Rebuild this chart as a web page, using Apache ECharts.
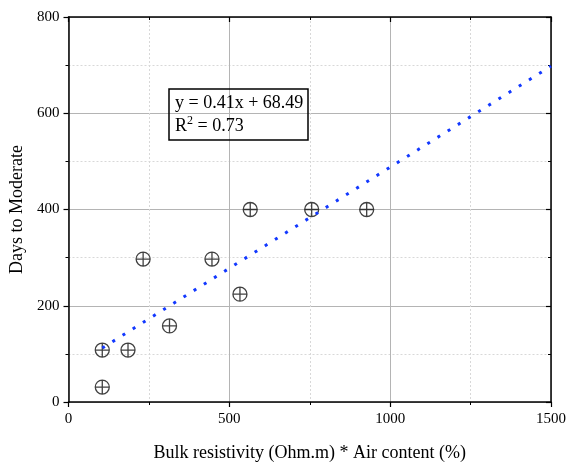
<!DOCTYPE html>
<html>
<head>
<meta charset="utf-8">
<script src="https://cdn.jsdelivr.net/npm/echarts@6/dist/echarts.min.js"></script>
<style>
html,body{margin:0;padding:0;background:#fff;}
#main{width:569px;height:467px;}
</style>
</head>
<body>
<div id="main"></div>
<script>
// measured points (x = resistivity * air content, y = days to moderate)
var xVals = [105, 105, 185, 232, 314, 446, 533, 565, 756, 927];
var yVals = [108, 31, 108, 297, 158, 297, 224, 400, 400, 400];
// linear fit ends
var fitX = [105, 1500];
var fitY = [112, 698];

var pts = [];
for (var i = 0; i < xVals.length; i++) pts.push([xVals[i], yVals[i]]);
var fit = [];
for (var j = 0; j < fitX.length; j++) fit.push([fitX[j], fitY[j]]);

var font = 'Liberation Serif';
var myChart = echarts.init(document.getElementById('main'));

// top / right frame axes: ticks pointing inward, no labels
function frame(pos, max, step) {
	return {
		type: 'value', position: pos, min: 0, max: max, interval: step,
		axisLine: {show: true, onZero: false, lineStyle: {color: '#000', width: 1.5}},
		axisTick: {show: true, inside: true, length: 5, lineStyle: {color: '#000', width: 1.2}},
		minorTick: {show: true, splitNumber: 2, length: 3, lineStyle: {color: '#000'}},
		axisLabel: {show: false},
		splitLine: {show: false}
	};
}

option = {
	animation: false,
	grid: {left: 68.5, right: 18, top: 17, bottom: 63},
	title: {
		text: 'y = 0.41x + 68.49\nR{sup|2} = 0.73',
		left: 169, top: 89,
		borderColor: '#000', borderWidth: 1.5,
		padding: [3, 5, 2, 6],
		textStyle: {
			fontFamily: font, fontSize: 18, fontWeight: 'normal', color: '#000', lineHeight: 23,
			rich: {sup: {fontFamily: font, fontSize: 12, verticalAlign: 'top', lineHeight: 14, color: '#000'}}
		}
	},
	xAxis: [{
		type: 'value', min: 0, max: 1500, interval: 500,
		name: 'Bulk resistivity (Ohm.m) * Air content (%)',
		nameLocation: 'middle', nameGap: 42,
		nameTextStyle: {fontFamily: font, fontSize: 18, color: '#000'},
		axisLine: {show: true, onZero: false, lineStyle: {color: '#000', width: 1.5}},
		axisTick: {show: true, length: 5, lineStyle: {color: '#000', width: 1.2}},
		minorTick: {show: true, splitNumber: 2, length: 3, lineStyle: {color: '#000'}},
		axisLabel: {fontFamily: font, fontSize: 15, color: '#000', margin: 10, formatter: function (v) { return String(v); }},
		splitLine: {show: true, lineStyle: {color: '#b4b4b4', width: 1}},
		minorSplitLine: {show: true, lineStyle: {color: '#d8d8d8', type: [2, 2]}}
	}, frame('top', 1500, 500)],
	yAxis: [{
		type: 'value', min: 0, max: 800, interval: 200,
		name: 'Days to Moderate',
		nameLocation: 'middle', nameGap: 42,
		nameTextStyle: {fontFamily: font, fontSize: 18, color: '#000'},
		axisLine: {show: true, onZero: false, lineStyle: {color: '#000', width: 1.5}},
		axisTick: {show: true, length: 5, lineStyle: {color: '#000', width: 1.2}},
		minorTick: {show: true, splitNumber: 2, length: 3, lineStyle: {color: '#000'}},
		axisLabel: {fontFamily: font, fontSize: 15, color: '#000', margin: 9, formatter: function (v) { return String(v); }},
		splitLine: {show: true, lineStyle: {color: '#b4b4b4', width: 1}},
		minorSplitLine: {show: true, lineStyle: {color: '#d8d8d8', type: [2, 2]}}
	}, frame('right', 800, 200)],
	series: [
		{
			type: 'scatter',
			data: pts,
			symbol: 'path://M0,10A10,10 0 1,1 20,10A10,10 0 1,1 0,10ZM10,0L10,20M0,10L20,10',
			symbolSize: 14,
			itemStyle: {color: 'rgba(0,0,0,0)', borderColor: '#111', borderWidth: 1.3},
			z: 3
		},
		{
			type: 'line',
			data: fit,
			showSymbol: false,
			lineStyle: {color: '#1238ff', width: 3, type: [3, 9]},
			z: 4
		},
		{
			// keeps the frame axes drawn
			type: 'scatter', xAxisIndex: 1, yAxisIndex: 1, data: [], silent: true
		}
	]
};

myChart.setOption(option);
</script>
</body>
</html>
